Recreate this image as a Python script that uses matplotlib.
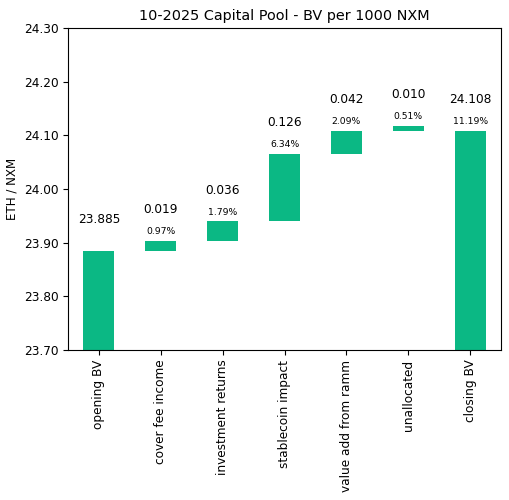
import matplotlib
matplotlib.use('Agg')
import matplotlib.pyplot as plt

categories = ['opening BV', 'cover fee income', 'investment returns', 'stablecoin impact',
              'value add from ramm', 'unallocated', 'closing BV']
opening = 23.885
changes = [0.019, 0.036, 0.126, 0.042, 0.010]
closing = 24.108
value_labels = ['23.885', '0.019', '0.036', '0.126', '0.042', '0.010', '24.108']
pct_labels = ['', '0.97%', '1.79%', '6.34%', '2.09%', '0.51%', '11.19%']
ymin, ymax = 23.70, 24.30

# waterfall bottoms / heights
bottoms = [ymin]
heights = [opening - ymin]
level = opening
for c in changes:
    bottoms.append(level)
    heights.append(c)
    level += c
bottoms.append(ymin)
heights.append(closing - ymin)

color = '#0bb884'
fig = plt.figure(figsize=(5.09, 5.0), dpi=100)
ax = fig.add_axes([0.1336, 0.30, 0.8507, 0.644])
x = list(range(len(categories)))
ax.bar(x, heights, bottom=bottoms, width=0.5, color=color)

for i in x:
    top = bottoms[i] + heights[i]
    ax.text(i, top + 0.058, value_labels[i], ha='center', va='center', fontsize=8.7)
    if pct_labels[i]:
        ax.text(i, top + 0.017, pct_labels[i], ha='center', va='center', fontsize=6.7)

ax.set_xlim(-0.5, 6.5)
ax.set_ylim(ymin, ymax)
ax.set_yticks([23.70 + 0.1 * k for k in range(7)])
ax.set_yticklabels(['%.2f' % (23.70 + 0.1 * k) for k in range(7)], fontsize=8.7)
ax.set_xticks(x)
ax.set_xticklabels(categories, rotation=90, fontsize=8.7)
ax.set_ylabel('ETH / NXM', fontsize=8.6)
ax.set_title('10-2025 Capital Pool - BV per 1000 NXM', fontsize=10.4)

fig.savefig('out.png', dpi=100)
